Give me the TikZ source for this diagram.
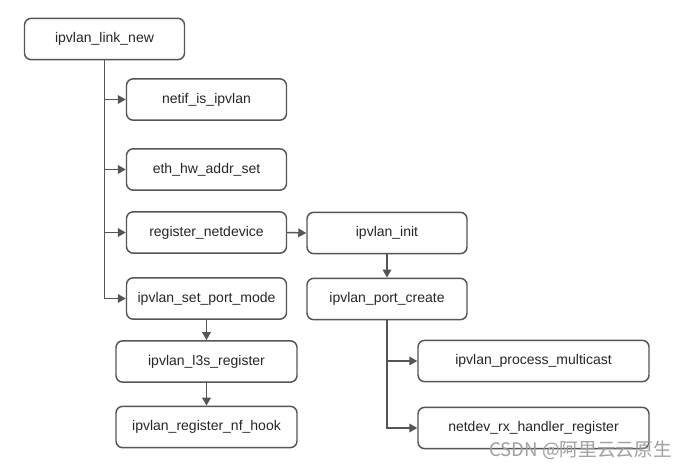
\documentclass[tikz,border=0pt]{standalone}
\usepackage{fontspec}
\setmainfont{Liberation Sans}
\newfontfamily\cjk{Noto Sans CJK SC}
\usetikzlibrary{arrows.meta}
\definecolor{edgegray}{HTML}{555555}
\definecolor{wmgray}{HTML}{A0A0A0}
\begin{document}
\begin{tikzpicture}[x=0.75pt,y=-0.75pt,
  fbox/.style={draw=edgegray, line width=1.1pt, rounded corners=5pt, fill=white,
    minimum height=31pt, inner sep=0pt, font=\fontsize{10.5pt}{12pt}\selectfont, text=black!85},
  w1/.style={minimum width=120pt},
  w2/.style={minimum width=135.75pt},
  w3/.style={minimum width=173.25pt},
  conn/.style={draw=edgegray, line width=1.1pt, -{Triangle[length=6pt,width=6.5pt]}},
  plain/.style={draw=edgegray, line width=1.1pt}
]
\useasboundingbox[fill=white] (0,0) rectangle (689,471);

\node[fbox,w1] (linknew) at (104.5,39) {ipvlan\_link\_new};
\node[fbox,w1] (netif) at (206.5,99.5) {netif\_is\_ipvlan};
\node[fbox,w1] (eth) at (206.5,169.5) {eth\_hw\_addr\_set};
\node[fbox,w1] (regnet) at (206.5,232.5) {register\_netdevice};
\node[fbox,w1] (setport) at (206.5,298.5) {ipvlan\_set\_port\_mode};
\node[fbox,w2] (l3s) at (206.5,361.5) {ipvlan\_l3s\_register};
\node[fbox,w2] (nfhook) at (206.5,427) {ipvlan\_register\_nf\_hook};
\node[fbox,w1] (init) at (387,233) {ipvlan\_init};
\node[fbox,w1] (portcreate) at (387,299) {ipvlan\_port\_create};
\node[fbox,w3] (multicast) at (533.5,361) {ipvlan\_process\_multicast};
\node[fbox,w3] (rxh) at (533.5,428) {netdev\_rx\_handler\_register};

\draw[conn] (linknew.south) |- (netif.west);
\draw[conn] (linknew.south) |- (eth.west);
\draw[conn] (linknew.south) |- (regnet.west);
\draw[conn] (linknew.south) |- (setport.west);
\draw[conn] (regnet.east) -- (init.west);
\draw[conn] (init.south) -- (portcreate.north);
\draw[conn] (setport.south) -- (l3s.north);
\draw[conn] (l3s.south) -- (nfhook.north);
\draw[conn] (portcreate.south) |- (multicast.west);
\draw[conn] (portcreate.south) |- (rxh.west);

\node[anchor=base east, inner sep=0pt, text=wmgray, font=\cjk\fontsize{14pt}{16pt}\selectfont] (wm) at (672,456) {CSDN @阿里云云原生};
\end{tikzpicture}
\end{document}
